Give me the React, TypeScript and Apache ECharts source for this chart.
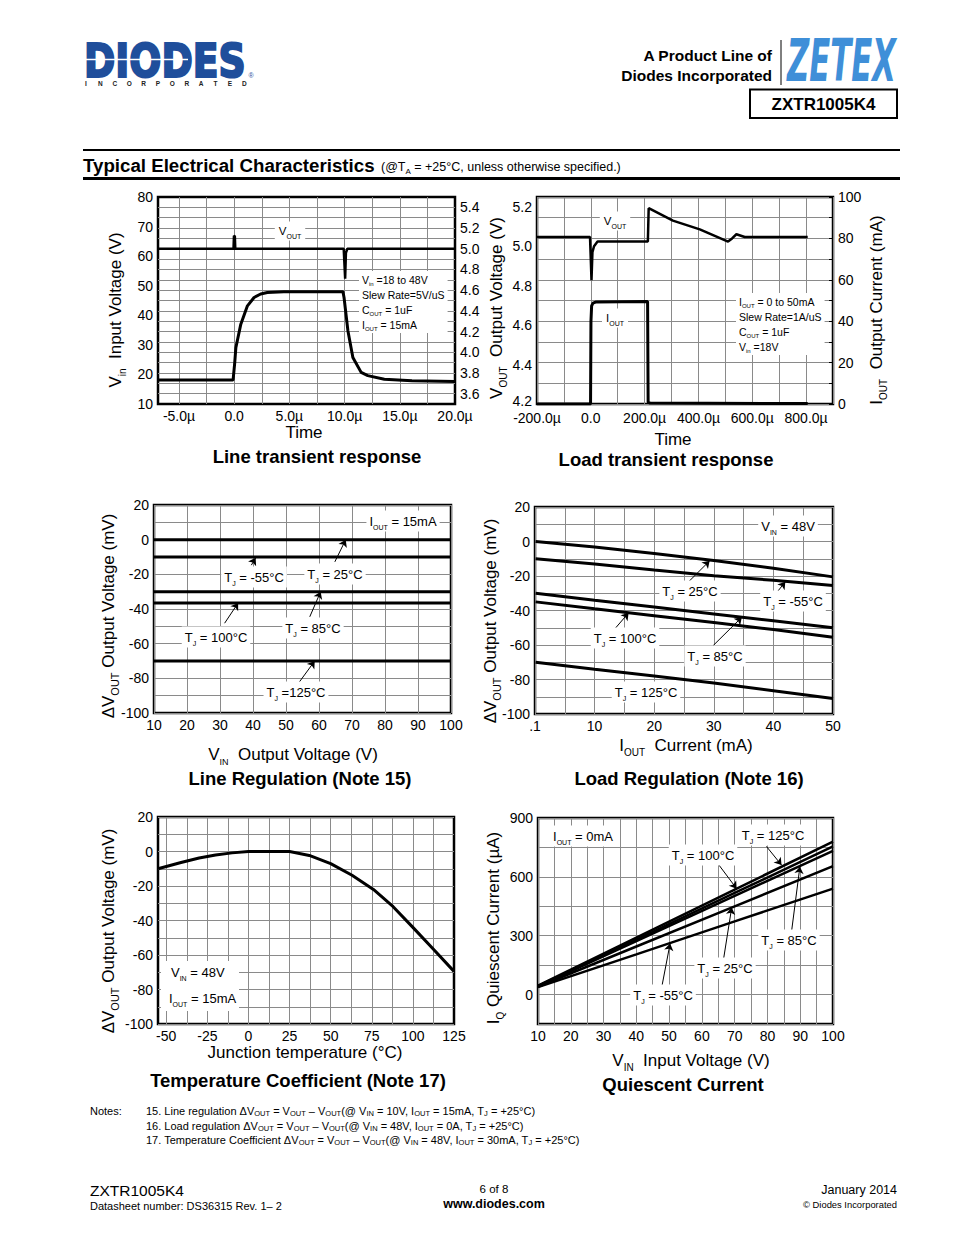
import React, { useEffect, useRef } from "react";
import * as echarts from "echarts";

const FONT = "Liberation Sans";
const GRID_COLOR = "#8a8a8a";

// ---------- Line transient response ----------
const LT_TIME_LABELS = [-5, 0, 5, 10, 15, 20];
const LT_TIME_GRID = [-5, -2.5, 0, 2.5, 5, 7.5, 10, 12.5, 15, 17.5];
const LT_VOUT_LABELS = [3.6, 3.8, 4.0, 4.2, 4.4, 4.6, 4.8, 5.0, 5.2, 5.4];
const LT_VOUT_GRID = [3.6, 3.7, 3.8, 3.9, 4.0, 4.1, 4.2, 4.3, 4.4, 4.5, 4.6, 4.7, 4.8, 4.9, 5.0, 5.1, 5.2, 5.3, 5.4];
const LT_VIN_T = [-6.9, -0.1, 0.05, 0.15, 0.6, 1.2, 1.8, 2.4, 3.0, 4.5, 9.85, 9.95, 10.3, 10.75, 11.5, 12.1, 13.6, 16.1, 20];
const LT_VIN_V = [18.1, 18.1, 24, 29, 37, 43.2, 46, 47.2, 47.7, 48, 48, 46, 34.8, 25.7, 20.7, 19.6, 18.4, 17.9, 17.6];
const LT_VOUT_T = [-6.9, -0.06, -0.02, 0.06, 0.1, 9.92, 10.05, 10.12, 10.25, 20];
const LT_VOUT_V = [5.0, 5.0, 5.125, 5.12, 5.0, 5.0, 4.71, 4.96, 5.0, 5.0];

// ---------- Load transient response ----------
const LD_TIME_LABELS = [-200, 0, 200, 400, 600, 800];
const LD_VOUT_LABELS = [4.2, 4.4, 4.6, 4.8, 5.0, 5.2];
const LD_VOUT_T = [-200, -3, 0, 2.5, 6, 12, 25, 212, 215, 305, 405, 510, 525, 541, 572, 806];
const LD_VOUT_V = [5.047, 5.047, 4.93, 4.828, 4.97, 5.0, 5.024, 5.024, 5.193, 5.13, 5.086, 5.024, 5.04, 5.061, 5.047, 5.047];
const LD_IOUT_T = [-200, -1, 0.5, 3, 8, 20, 211, 213, 220, 806];
const LD_IOUT_V = [0, 0, 40, 47.4, 48.7, 49.3, 49.5, 0.8, 0.5, 0.2];

// ---------- Line regulation ----------
const LR_VIN = [10, 100];
const LR_M55 = [-10, -10];
const LR_25 = [0, 0];
const LR_85 = [-30, -30];
const LR_100 = [-36.5, -36.5];
const LR_125 = [-70, -70];
const LR_ARROWS = [
  [39.5, -14.7, 40.8, -10.5],
  [64.8, -12.8, 68.1, 0],
  [31.4, -48.2, 35.5, -36.5],
  [57.2, -44.5, 60.5, -30],
  [53.7, -83, 58.7, -70],
];

// ---------- Load regulation ----------
const LDR_IOUT = [0.1, 10, 20, 30, 40, 50];
const LDR_25 = [0, -3.2, -7, -11, -15.5, -20.5];
const LDR_M55 = [-10, -13, -16.5, -19.8, -22.5, -25.5];
const LDR_85 = [-30, -34, -38, -42, -46, -50];
const LDR_100 = [-35, -39, -43, -47, -51, -55.5];
const LDR_125 = [-70, -74, -78, -82, -86.5, -91];
const LDR_ARROWS = [
  [25.7, -23.6, 29.3, -11.2],
  [40.6, -29.4, 42, -23.4],
  [13.4, -50.6, 15.7, -41.4],
  [29.9, -60.3, 34.7, -43.9],
];

// ---------- Temperature coefficient ----------
const TC_TEMP_LABELS = [-50, -25, 0, 25, 50, 75, 100, 125];
const TC_TEMP_GRID = [-50, -37.5, -25, -12.5, 0, 12.5, 25, 37.5, 50, 62.5, 75, 87.5, 100, 112.5];
const TC_TEMP = [-55, -41, -30, -20, -10, 0, 12.5, 25, 37, 50, 63, 76, 88, 100, 112.5, 125];
const TC_DV = [-10, -6.4, -3.8, -2, -0.8, 0, 0, 0, -2.3, -7, -13.8, -22, -32, -44, -56.7, -69.5];

// ---------- Quiescent current ----------
const QC_VIN = [10, 40, 70, 100];
const QC_125 = [45, 290, 535, 780];
const QC_100 = [43, 280, 518, 755];
const QC_85 = [42, 272, 503, 733];
const QC_25 = [40, 245, 450, 655];
const QC_M55 = [38, 205, 373, 540];
const QC_ARROWS = [
  [79.7, 755, 84.3, 660],
  [64, 687, 70.6, 540],
  [87.3, 314, 89.9, 652],
  [66.5, 169, 69.1, 444],
  [47.8, 42, 50.3, 260],
];

const pairs = (xs: number[], ys: number[]) => xs.map((x, i) => [x, ys[i]]);

function lineSeries(xi: number, yi: number, data: number[][], width = 3, extra: any = {}) {
  return {
    type: "line",
    xAxisIndex: xi,
    yAxisIndex: yi,
    data,
    symbol: "none",
    showSymbol: false,
    lineStyle: { color: "#000", width },
    itemStyle: { color: "#000" },
    silent: true,
    z: 3,
    animation: false,
    ...extra,
  };
}

function arrowMark(arrows: number[][]) {
  return {
    silent: true,
    symbol: ["none", "arrow"],
    symbolSize: 7,
    animation: false,
    lineStyle: { color: "#000", width: 1, type: "solid" },
    label: { show: false },
    emphasis: { disabled: true },
    data: arrows.map((a) => [{ coord: [a[0], a[1]] }, { coord: [a[2], a[3]] }]),
  };
}

function T(x: number, y: number, text: string, o: any = {}) {
  const fs = o.fs ?? 13;
  const family = o.family ?? FONT;
  const color = o.color ?? "#000";
  const style: any = {
    text,
    fontSize: fs,
    fontFamily: family,
    fontWeight: o.bold ? "bold" : "normal",
    fontStyle: o.italic ? "italic" : "normal",
    fill: color,
    align: o.align ?? "center",
    verticalAlign: o.va ?? "middle",
    lineHeight: o.lh ?? Math.round(fs * 1.45),
    rich: {
      s: {
        fontSize: o.sfs ?? Math.round(fs * 0.58),
        fontFamily: family,
        fontWeight: o.bold ? "bold" : "normal",
        fill: color,
        verticalAlign: "bottom",
      },
    },
  };
  if (o.stroke) {
    style.stroke = o.stroke;
    style.lineWidth = o.strokeWidth ?? 1;
  }
  if (o.bg) {
    style.backgroundColor = o.bg;
    style.padding = o.pad ?? [1, 3];
  }
  const el: any = { type: "text", x, y, z: o.z ?? 10, silent: true, style };
  if (o.rot) el.rotation = o.rot;
  if (o.scaleX) el.scaleX = o.scaleX;
  return el;
}

function L(x1: number, y1: number, x2: number, y2: number, w = 1, color = "#000") {
  return { type: "line", z: 10, silent: true, shape: { x1, y1, x2, y2 }, style: { stroke: color, lineWidth: w } };
}

const labelStyle = { fontSize: 14, fontFamily: FONT, color: "#000", margin: 5 };
const splitOn = { show: true, lineStyle: { color: GRID_COLOR, width: 1 } };
const baseAxis = {
  type: "value",
  axisLine: { show: false },
  axisTick: { show: false },
  splitLine: splitOn,
};

const microFmt = (v: number) => (v === 0 ? "0.0" : v.toFixed(1) + "µ");

function buildOption() {
  const grids = [
    { left: 158, top: 197, width: 297, height: 207 },
    { left: 537, top: 197, width: 296, height: 207 },
    { left: 154, top: 505, width: 297, height: 208 },
    { left: 535, top: 507, width: 298, height: 207 },
    { left: 158, top: 817, width: 296, height: 207 },
    { left: 538, top: 818, width: 295, height: 206 },
  ].map((g) => ({
    ...g,
    show: true,
    borderColor: "#000",
    borderWidth: 2.5,
    backgroundColor: "transparent",
    containLabel: false,
    outerBoundsMode: "none",
  }));

  const xAxis = [
    {
      ...baseAxis,
      gridIndex: 0,
      min: -6.9,
      max: 20,
      axisTick: { show: false, customValues: LT_TIME_GRID },
      axisLabel: { ...labelStyle, customValues: LT_TIME_LABELS, formatter: microFmt },
    },
    {
      ...baseAxis,
      gridIndex: 1,
      min: -200,
      max: 900,
      interval: 100,
      axisLabel: { ...labelStyle, margin: 7, lineHeight: 13, customValues: LD_TIME_LABELS, formatter: microFmt },
    },
    { ...baseAxis, gridIndex: 2, min: 10, max: 100, interval: 10, axisLabel: { ...labelStyle } },
    {
      ...baseAxis,
      gridIndex: 3,
      min: 0,
      max: 50,
      interval: 5,
      axisLabel: { ...labelStyle, formatter: (v: number) => (v === 0 ? ".1" : v % 10 === 0 ? String(v) : "") },
    },
    {
      ...baseAxis,
      gridIndex: 4,
      min: -55,
      max: 125,
      axisTick: { show: false, customValues: TC_TEMP_GRID },
      axisLabel: { ...labelStyle, customValues: TC_TEMP_LABELS },
    },
    {
      ...baseAxis,
      gridIndex: 5,
      min: 10,
      max: 100,
      interval: 5,
      axisLabel: { ...labelStyle, formatter: (v: number) => (v % 10 === 0 ? String(v) : "") },
    },
  ];

  const every20 = (v: number) => (Math.abs(v) % 20 === 0 ? String(v) : "");
  const yAxis = [
    { ...baseAxis, gridIndex: 0, min: 10, max: 80, interval: 10, splitLine: { show: false }, axisLabel: { ...labelStyle } },
    {
      ...baseAxis,
      gridIndex: 0,
      position: "right",
      min: 3.5,
      max: 5.5,
      axisTick: { show: false, customValues: LT_VOUT_GRID },
      axisLabel: { ...labelStyle, customValues: LT_VOUT_LABELS, formatter: (v: number) => v.toFixed(1) },
    },
    {
      ...baseAxis,
      gridIndex: 1,
      min: 4.2,
      max: 5.25,
      splitLine: { show: false },
      axisLabel: {
        ...labelStyle,
        customValues: LD_VOUT_LABELS,
        formatter: (v: number) => (Math.abs(v - 4.2) < 1e-6 ? "{lo|4.2}" : v.toFixed(1)),
        rich: {
          lo: { fontSize: 14, fontFamily: FONT, color: "#000", lineHeight: 12, padding: [0, 0, 7, 0] },
        },
      },
    },
    {
      ...baseAxis,
      gridIndex: 1,
      position: "right",
      min: 0,
      max: 100,
      interval: 10,
      axisTick: { show: true, inside: true, length: 4, lineStyle: { color: "#000", width: 1 } },
      axisLabel: { ...labelStyle, formatter: every20 },
    },
    { ...baseAxis, gridIndex: 2, min: -100, max: 20, interval: 10, axisLabel: { ...labelStyle, formatter: every20 } },
    { ...baseAxis, gridIndex: 3, min: -100, max: 20, interval: 10, axisLabel: { ...labelStyle, formatter: every20 } },
    { ...baseAxis, gridIndex: 4, min: -100, max: 20, interval: 10, axisLabel: { ...labelStyle, formatter: every20 } },
    {
      ...baseAxis,
      gridIndex: 5,
      min: -150,
      max: 900,
      interval: 150,
      axisLabel: { ...labelStyle, formatter: (v: number) => (v >= 0 && v % 300 === 0 ? String(v) : "") },
    },
  ];

  const series = [
    lineSeries(0, 0, pairs(LT_VIN_T, LT_VIN_V), 3),
    lineSeries(0, 1, pairs(LT_VOUT_T, LT_VOUT_V), 2.5),
    lineSeries(1, 2, pairs(LD_VOUT_T, LD_VOUT_V), 2.5),
    lineSeries(1, 3, pairs(LD_IOUT_T, LD_IOUT_V), 3),
    lineSeries(2, 4, pairs(LR_VIN, LR_25), 3, { markLine: arrowMark(LR_ARROWS) }),
    lineSeries(2, 4, pairs(LR_VIN, LR_M55), 3),
    lineSeries(2, 4, pairs(LR_VIN, LR_85), 3),
    lineSeries(2, 4, pairs(LR_VIN, LR_100), 3),
    lineSeries(2, 4, pairs(LR_VIN, LR_125), 3),
    lineSeries(3, 5, pairs(LDR_IOUT, LDR_25), 3, { markLine: arrowMark(LDR_ARROWS) }),
    lineSeries(3, 5, pairs(LDR_IOUT, LDR_M55), 3),
    lineSeries(3, 5, pairs(LDR_IOUT, LDR_85), 3),
    lineSeries(3, 5, pairs(LDR_IOUT, LDR_100), 3),
    lineSeries(3, 5, pairs(LDR_IOUT, LDR_125), 3),
    lineSeries(4, 6, pairs(TC_TEMP, TC_DV), 3),
    lineSeries(5, 7, pairs(QC_VIN, QC_125), 2.5, { markLine: arrowMark(QC_ARROWS) }),
    lineSeries(5, 7, pairs(QC_VIN, QC_100), 2.5),
    lineSeries(5, 7, pairs(QC_VIN, QC_85), 2.5),
    lineSeries(5, 7, pairs(QC_VIN, QC_25), 2.5),
    lineSeries(5, 7, pairs(QC_VIN, QC_M55), 2.5),
  ];

  const W = "#fff";
  const R90 = Math.PI / 2;
  const graphic: any[] = [];

  // ---------- Header ----------
  graphic.push(
    T(84, 61.5, "DIODES", {
      fs: 46, family: "DejaVu Sans", bold: true, color: "#1f4e9b", align: "left", scaleX: 0.82,
      stroke: "#1f4e9b", strokeWidth: 2.2,
    })
  );
  graphic.push(L(86, 59.5, 188, 59.5, 1.5, "#fff"));
  "INCORPORATED".split("").forEach((ch, i) =>
    graphic.push(T(86 + i * 14.4, 83, ch, { fs: 6.5, bold: true, color: "#222" }))
  );
  graphic.push(T(251, 75, "®", { fs: 7, color: "#1f4e9b" }));
  graphic.push(T(772, 55, "A Product Line of", { fs: 15.5, bold: true, align: "right" }));
  graphic.push(T(772, 75, "Diodes Incorporated", { fs: 15.5, bold: true, align: "right" }));
  graphic.push(L(781, 40, 781, 85, 1));
  graphic.push(T(787, 61.5, "ZETEX", { fs: 58, family: "DejaVu Sans", bold: true, italic: true, color: "#3f8fd8", align: "left", scaleX: 0.53 }));
  graphic.push({ type: "rect", z: 10, silent: true, shape: { x: 750, y: 89.5, width: 147, height: 28.5 }, style: { fill: "none", stroke: "#000", lineWidth: 2 } });
  graphic.push(T(823.5, 104, "ZXTR1005K4", { fs: 17, bold: true }));
  graphic.push(L(83, 150, 900, 150, 2));
  graphic.push(T(83, 165, "Typical Electrical Characteristics", { fs: 18.7, bold: true, align: "left" }));
  graphic.push(T(381, 167, "(@T{s|A} = +25°C, unless otherwise specified.)", { fs: 12.5, sfs: 8, align: "left", lh: 16 }));
  graphic.push(L(83, 178.5, 900, 178.5, 3));

  // ---------- Chart 1 texts ----------
  graphic.push(T(115, 310, "V{s|in}  Input Voltage (V)", { fs: 17, sfs: 10, rot: R90 }));
  graphic.push(T(496, 308, "V{s|OUT}  Output Voltage (V)", { fs: 17, sfs: 10, rot: R90 }));
  graphic.push(T(304, 432, "Time", { fs: 17 }));
  graphic.push(T(317, 456, "Line transient response", { fs: 18.5, bold: true }));
  graphic.push(T(290, 231, "V{s|OUT}", { fs: 11.5, sfs: 7, bg: W, pad: [1, 4] }));
  graphic.push(
    T(359, 271, "V{s|in} =18 to 48V\nSlew Rate=5V/uS\nC{s|OUT} = 1uF\nI{s|OUT} = 15mA", {
      fs: 10.5, sfs: 6, lh: 15, align: "left", va: "top", bg: W, pad: [1, 3],
    })
  );

  // ---------- Chart 2 texts ----------
  graphic.push(T(876, 310, "I{s|OUT}  Output Current (mA)", { fs: 17, sfs: 10, rot: R90 }));
  graphic.push(T(673, 439, "Time", { fs: 17 }));
  graphic.push(T(666, 459, "Load transient response", { fs: 18.5, bold: true }));
  graphic.push(T(615, 221, "V{s|OUT}", { fs: 11.5, sfs: 7, bg: W, pad: [1, 4] }));
  graphic.push(T(615, 318, "I{s|OUT}", { fs: 11.5, sfs: 7, bg: W, pad: [1, 4] }));
  graphic.push(
    T(736, 293, "I{s|OUT} = 0 to 50mA\nSlew Rate=1A/uS\nC{s|OUT} = 1uF\nV{s|in} =18V", {
      fs: 10.5, sfs: 6, lh: 15, align: "left", va: "top", bg: W, pad: [1, 3],
    })
  );

  // ---------- Chart 3 texts ----------
  graphic.push(T(108, 616, "ΔV{s|OUT} Output Voltage (mV)", { fs: 17, sfs: 11, rot: R90 }));
  graphic.push(T(293, 754, "V{s|IN}  Output Voltage (V)", { fs: 17, sfs: 9 }));
  graphic.push(T(300, 778, "Line Regulation (Note 15)", { fs: 18.5, bold: true }));
  graphic.push(T(403, 521, "I{s|OUT} = 15mA", { fs: 13, sfs: 7, bg: W }));
  graphic.push(T(254, 577, "T{s|J} = -55°C", { fs: 13, sfs: 7, bg: W }));
  graphic.push(T(335, 574, "T{s|J} = 25°C", { fs: 13, sfs: 7, bg: W }));
  graphic.push(T(216, 637, "T{s|J} = 100°C", { fs: 13, sfs: 7, bg: W }));
  graphic.push(T(313, 628, "T{s|J} = 85°C", { fs: 13, sfs: 7, bg: W }));
  graphic.push(T(296, 692, "T{s|J} =125°C", { fs: 13, sfs: 7, bg: W }));

  // ---------- Chart 4 texts ----------
  graphic.push(T(490, 621, "ΔV{s|OUT} Output Voltage (mV)", { fs: 17, sfs: 11, rot: R90 }));
  graphic.push(T(686, 745, "I{s|OUT}  Current (mA)", { fs: 17, sfs: 10 }));
  graphic.push(T(689, 778, "Load Regulation (Note 16)", { fs: 18.5, bold: true }));
  graphic.push(T(788, 526, "V{s|IN} = 48V", { fs: 13, sfs: 7, bg: W }));
  graphic.push(T(690, 591, "T{s|J} = 25°C", { fs: 13, sfs: 7, bg: W }));
  graphic.push(T(793, 601, "T{s|J} = -55°C", { fs: 13, sfs: 7, bg: W }));
  graphic.push(T(625, 638, "T{s|J} = 100°C", { fs: 13, sfs: 7, bg: W }));
  graphic.push(T(715, 656, "T{s|J} = 85°C", { fs: 13, sfs: 7, bg: W }));
  graphic.push(T(646, 692, "T{s|J} = 125°C", { fs: 13, sfs: 7, bg: W }));

  // ---------- Chart 5 texts ----------
  graphic.push(T(108, 931, "ΔV{s|OUT} Output Voltage (mV)", { fs: 17, sfs: 11, rot: R90 }));
  graphic.push(T(305, 1052, "Junction temperature (°C)", { fs: 17 }));
  graphic.push(T(298, 1080, "Temperature Coefficient (Note 17)", { fs: 18.5, bold: true }));
  graphic.push({ type: "rect", z: 5, silent: true, shape: { x: 161, y: 961, width: 78, height: 50 }, style: { fill: "#fff" } });
  graphic.push(T(171, 972, "V{s|IN} = 48V", { fs: 13, sfs: 7, align: "left" }));
  graphic.push(T(169, 998, "I{s|OUT} = 15mA", { fs: 13, sfs: 7, align: "left" }));

  // ---------- Chart 6 texts ----------
  graphic.push(T(493, 928, "I{s|Q} Quiescent Current (µA)", { fs: 17, sfs: 10, rot: R90 }));
  graphic.push(T(691, 1060, "V{s|IN}  Input Voltage (V)", { fs: 17, sfs: 10 }));
  graphic.push(T(683, 1084, "Quiescent Current", { fs: 18.5, bold: true }));
  graphic.push(T(583, 836, "I{s|OUT} = 0mA", { fs: 13, sfs: 7, bg: W }));
  graphic.push(T(773, 835, "T{s|J} = 125°C", { fs: 13, sfs: 7, bg: W }));
  graphic.push(T(703, 855, "T{s|J} = 100°C", { fs: 13, sfs: 7, bg: W }));
  graphic.push(T(789, 940, "T{s|J} = 85°C", { fs: 13, sfs: 7, bg: W }));
  graphic.push(T(725, 968, "T{s|J} = 25°C", { fs: 13, sfs: 7, bg: W }));
  graphic.push(T(663, 995, "T{s|J} = -55°C", { fs: 13, sfs: 7, bg: W }));

  // ---------- Notes & footer ----------
  const noteOpt = { fs: 11, sfs: 7.5, align: "left", lh: 13 };
  graphic.push(T(90, 1111, "Notes:", { fs: 11, align: "left" }));
  graphic.push(T(146, 1111, "15. Line regulation ΔV{s|OUT} = V{s|OUT} – V{s|OUT}(@ V{s|IN} = 10V, I{s|OUT} = 15mA, T{s|J} = +25°C)", noteOpt));
  graphic.push(T(146, 1125.5, "16. Load regulation ΔV{s|OUT} = V{s|OUT} – V{s|OUT}(@ V{s|IN} = 48V, I{s|OUT} = 0A, T{s|J} = +25°C)", noteOpt));
  graphic.push(T(146, 1140, "17. Temperature Coefficient ΔV{s|OUT} = V{s|OUT} – V{s|OUT}(@ V{s|IN} = 48V, I{s|OUT} = 30mA, T{s|J} = +25°C)", noteOpt));
  graphic.push(T(90, 1190, "ZXTR1005K4", { fs: 15.5, align: "left" }));
  graphic.push(T(90, 1206, "Datasheet number: DS36315 Rev. 1– 2", { fs: 11, align: "left" }));
  graphic.push(T(494, 1189, "6 of 8", { fs: 11.5 }));
  graphic.push(T(494, 1204, "www.diodes.com", { fs: 12.5, bold: true }));
  graphic.push(T(897, 1190, "January 2014", { fs: 12.5, align: "right" }));
  graphic.push(T(897, 1204, "© Diodes Incorporated", { fs: 9.4, align: "right" }));

  return {
    animation: false,
    backgroundColor: "#fff",
    textStyle: { fontFamily: FONT },
    grid: grids,
    xAxis,
    yAxis,
    series,
    graphic,
  };
}

export default function App() {
  const ref = useRef<HTMLDivElement>(null);
  useEffect(() => {
    document.body.style.margin = "0";
    const chart = echarts.init(ref.current as HTMLDivElement, null, { renderer: "svg", width: 954, height: 1235 });
    chart.setOption(buildOption() as any);
    return () => chart.dispose();
  }, []);
  return <div ref={ref} style={{ width: 954, height: 1235 }} />;
}
